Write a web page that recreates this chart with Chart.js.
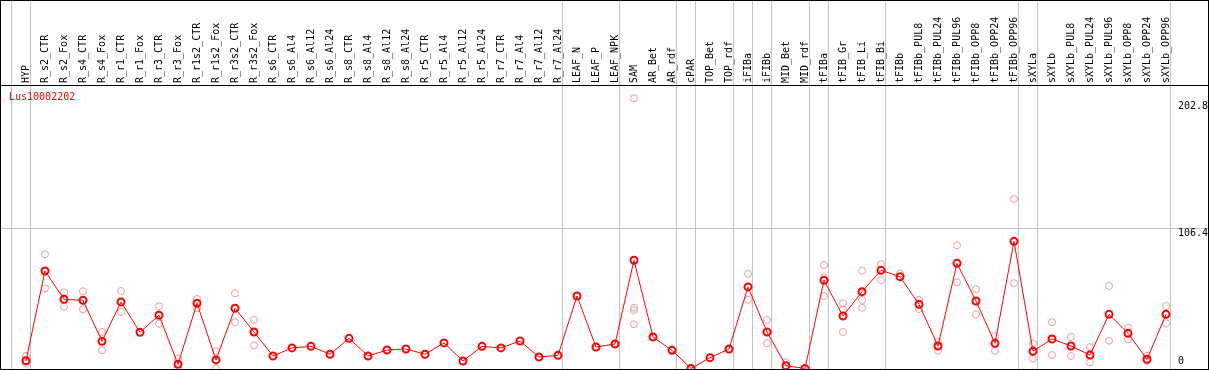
<!DOCTYPE html>
<html>
<head>
<meta charset="utf-8">
<script src="https://cdn.jsdelivr.net/npm/chart.js@4.4.1/dist/chart.umd.min.js"></script>
<style>
  html, body { margin: 0; padding: 0; background: #fff; }
  #box { position: relative; width: 1209px; height: 370px; box-sizing: border-box; border: 1px solid #000; }
  #box canvas { display: block; }
  #gene { position: absolute; left: 8px; top: 90px; font: 10px "DejaVu Sans Mono", monospace; line-height: 12px; color: #f00; }
</style>
</head>
<body>
<div id="box">
  <canvas id="chart" width="1207" height="368"></canvas>
  <div id="gene">Lus10002202</div>
</div>
<script>
// --- Data ---
const categories = [
  "HYP", "R_s2_CTR", "R_s2_Fox", "R_s4_CTR", "R_s4_Fox", "R_r1_CTR", "R_r1_Fox", "R_r3_CTR", "R_r3_Fox",
  "R_r1s2_CTR", "R_r1s2_Fox", "R_r3s2_CTR", "R_r3s2_Fox", "R_s6_CTR", "R_s6_Al4", "R_s6_Al12", "R_s6_Al24",
  "R_s8_CTR", "R_s8_Al4", "R_s8_Al12", "R_s8_Al24", "R_r5_CTR", "R_r5_Al4", "R_r5_Al12", "R_r5_Al24",
  "R_r7_CTR", "R_r7_Al4", "R_r7_Al12", "R_r7_Al24", "LEAF_N", "LEAF_P", "LEAF_NPK", "SAM", "AR_Bet", "AR_rdf",
  "cPAR", "TOP_Bet", "TOP_rdf", "iFIBa", "iFIBb", "MID_Bet", "MID_rdf", "tFIBa", "tFIB_Gr", "tFIB_Li", "tFIB_Bi",
  "tFIBb", "tFIBb_PUL8", "tFIBb_PUL24", "tFIBb_PUL96", "tFIBb_OPP8", "tFIBb_OPP24", "tFIBb_OPP96",
  "sXYLa", "sXYLb", "sXYLb_PUL8", "sXYLb_PUL24", "sXYLb_PUL96", "sXYLb_OPP8", "sXYLb_OPP24", "sXYLb_OPP96"
];

const means = [
  5.9, 74.0, 52.5, 51.7, 20.6, 50.5, 27.5, 40.4, 3.2,
  49.5, 6.5, 45.7, 27.7, 9.5, 15.6, 16.8, 10.8,
  22.9, 9.5, 14.0, 14.8, 10.8, 19.4, 5.7, 16.8,
  15.6, 20.9, 8.7, 10.0, 55.0, 16.3, 18.6, 82.1, 23.9, 13.8,
  0, 8.2, 14.8, 61.9, 27.7, 2.1, 0, 66.9, 39.8, 58.3, 74.5,
  69.7, 48.7, 17.1, 79.8, 51.2, 19.1, 96.5,
  13.1, 22.4, 17.1, 10.2, 41.1, 26.7, 7.0, 41.1
];

// replicate measurements (null = hidden under the mean marker)
const rep1 = [
  9.5, 86.7, 57.8, 58.6, 27.7, 58.8, null, 47.2, 7.7,
  52.7, 13.3, 57.1, 36.8, null, null, null, null,
  null, null, null, null, null, null, null, null,
  null, null, null, null, null, null, null, 205.0, null, null,
  null, null, null, 71.7, 36.8, 4.7, null, 78.5, 49.5, 74.2, 79.1,
  72.2, 52.0, 20.3, 93.5, 60.1, 24.7, 128.6,
  19.1, 35.1, 23.9, 16.3, 62.6, 31.0, 9.7, 47.4
];
const rep2 = [
  3.9, 60.8, 46.9, 44.9, 13.8, 42.9, null, 34.0, 0,
  45.7, 0, 35.1, 17.6, null, null, null, null,
  null, null, null, null, null, null, null, null,
  null, null, null, null, null, null, null, 46.1, null, null,
  null, null, null, 52.2, 19.1, null, null, 69.2, 44.9, 52.0, 66.9,
  null, 45.2, 13.5, 65.4, 41.1, 13.5, 64.7,
  7.5, 10.2, 9.5, 4.7, 21.1, 22.2, 5.7, 34.3
];
const rep3 = [
  null, null, null, null, null, null, null, null, null,
  null, null, null, null, null, null, null, null,
  null, null, null, null, null, null, null, null,
  null, null, null, null, null, null, null, 44.4, null, null,
  null, null, null, null, null, null, null, 55.0, 27.7, 46.1, null,
  null, null, null, null, null, null, null,
  null, null, null, null, null, null, null, null
];
const rep4 = [
  null, null, null, null, null, null, null, null, null,
  null, null, null, null, null, null, null, null,
  null, null, null, null, null, null, null, null,
  null, null, null, null, null, null, null, 33.5, null, null,
  null, null, null, null, null, null, null, null, null, null, null,
  null, null, null, null, null, null, null,
  null, null, null, null, null, null, null, null
];

// index of the first category of each group (last entry closes the final group)
const groupStarts = [0, 1, 29, 32, 35, 36, 38, 39, 40, 42, 43, 46, 53, 54, 61];
const yTicks = [0, 106.4, 202.8];

// --- Build datasets ---
const meanPoints = means.map((v, i) => ({ x: i, y: v }));
const repPoints = [];
[rep1, rep2, rep3, rep4].forEach(arr => {
  arr.forEach((v, i) => {
    if (v !== null) repPoints.push({ x: i, y: v });
  });
});

const separators = groupStarts.map(k => k - 0.76);
const gridGray = "#c4c4c4";
const none = "rgba(0,0,0,0)";

Chart.defaults.font.family = "'DejaVu Sans Mono', monospace";
Chart.defaults.font.size = 10;
Chart.defaults.color = "#000";

new Chart(document.getElementById("chart"), {
  type: "line",
  data: {
    datasets: [
      {
        label: "mean",
        data: meanPoints,
        borderColor: "#ff0000",
        borderWidth: 1,
        pointRadius: 3.5,
        pointBorderWidth: 2,
        pointBorderColor: "#ff0000",
        pointBackgroundColor: none,
        order: 0
      },
      {
        label: "replicates",
        data: repPoints,
        showLine: false,
        pointRadius: 3.5,
        pointBorderWidth: 1,
        pointBorderColor: "#f09a9a",
        pointBackgroundColor: none,
        order: 1
      }
    ]
  },
  options: {
    responsive: false,
    animation: false,
    events: [],
    layout: { padding: 0, autoPadding: false },
    plugins: { legend: { display: false }, tooltip: { enabled: false }, title: { display: false } },
    scales: {
      x: {
        type: "linear",
        position: "top",
        min: -1.316,
        max: 62.21,
        afterBuildTicks: scale => {
          const vals = separators.concat(categories.map((c, i) => i)).sort((a, b) => a - b);
          scale.ticks = vals.map(v => ({ value: v }));
        },
        afterFit: scale => {
          scale.height = 84;
          scale.paddingLeft = 0;
          scale.paddingRight = 0;
        },
        ticks: {
          autoSkip: false,
          minRotation: 90,
          maxRotation: 90,
          padding: -82,
          labelOffset: 12,
          callback: v => Number.isInteger(v) ? categories[v] : ""
        },
        grid: {
          drawTicks: true,
          tickLength: 84,
          lineWidth: 1,
          color: ctx => (ctx.tick && !Number.isInteger(ctx.tick.value)) ? gridGray : none
        },
        border: { display: true, color: "#000", width: 1 }
      },
      y: {
        type: "linear",
        position: "right",
        min: -0.38,
        max: 215.1,
        afterBuildTicks: scale => {
          scale.ticks = yTicks.map(v => ({ value: v }));
        },
        afterFit: scale => {
          scale.width = 0;
          scale.paddingTop = 0;
          scale.paddingBottom = 0;
        },
        ticks: {
          mirror: true,
          crossAlign: "far",
          padding: 0,
          labelOffset: 5,
          callback: v => v === 0 ? ["0", "", ""] : String(v)
        },
        grid: {
          drawTicks: false,
          color: ctx => (ctx.tick && ctx.tick.value === 106.4) ? gridGray : none
        },
        border: { display: false }
      }
    }
  }
});
</script>
</body>
</html>
